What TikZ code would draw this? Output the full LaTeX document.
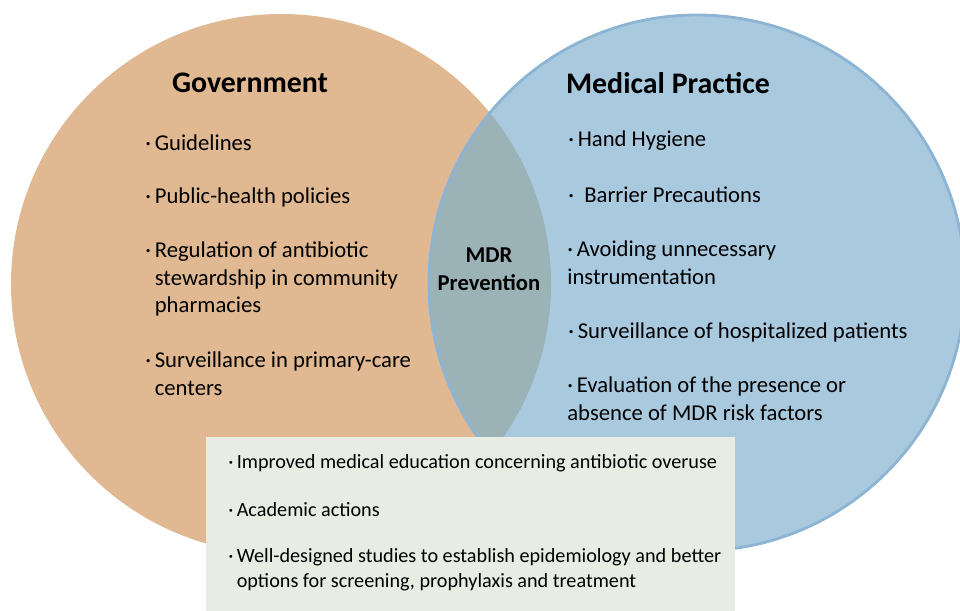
\documentclass[tikz,border=0pt]{standalone}
\usepackage{fontspec}
\setmainfont{Carlito}
\usetikzlibrary{positioning}
\definecolor{govfill}{RGB}{224,184,145}
\definecolor{medfill}{RGB}{169,201,223}
\definecolor{mdrfill}{RGB}{155,179,182}
\definecolor{medline}{RGB}{141,180,211}
\definecolor{acadfill}{RGB}{232,237,228}
\newcommand{\dotind}{\hphantom{·\,}}
\begin{document}
\begin{tikzpicture}[x=0.02cm,y=-0.02cm,
	title/.style={inner sep=0pt,font=\fontsize{17}{20}\selectfont\bfseries},
	item/.style={anchor=west,align=left,inner sep=0pt,font=\fontsize{12.9}{15.9}\selectfont},
	acaditem/.style={anchor=west,align=left,inner sep=0pt,font=\fontsize{11.5}{14.2}\selectfont}]
	\clip (0,0) rectangle (960,611);
	\fill[white] (0,0) rectangle (960,611);
	% the two circles and their overlap
	\fill[govfill] (281,284) circle (270);
	\fill[medfill] (697,283) circle (269);
	\begin{scope}
		\clip (281,284) circle (270);
		\fill[mdrfill] (697,283) circle (269);
	\end{scope}
	\draw[medline,line width=1.6pt] (697,283) circle (268);
	% headings
	\node[title] (gov) at (250,83) {Government};
	\node[title] (med) at (668,83) {Medical Practice};
	\node[inner sep=0pt,align=center,font=\fontsize{12.9}{15.9}\selectfont\bfseries] (mdr) at (489,269) {MDR\\Prevention};
	% government items
	\node[item] (gov1) at (145,143) {·\,Guidelines};
	\node[item] (gov2) at (145,197) {·\,Public-health policies};
	\node[item] (gov3) at (145,279) {·\,Regulation of antibiotic\\\dotind stewardship in community\\\dotind pharmacies};
	\node[item] (gov4) at (145,374) {·\,Surveillance in primary-care\\\dotind centers};
	% medical practice items
	\node[item] (med1) at (568,141) {·\,Hand Hygiene};
	\node[item] (med2) at (568,195) {·\ \ Barrier Precautions};
	\node[item] (med3) at (567,263) {·\,Avoiding unnecessary\\instrumentation};
	\node[item] (med4) at (568,332) {·\,Surveillance of hospitalized patients};
	\node[item] (med5) at (567,399) {·\,Evaluation of the presence or\\absence of MDR risk factors};
	% academic box
	\fill[acadfill] (206,437) rectangle (735,615);
	\node[acaditem] (acad1) at (228,463) {·\,Improved medical education concerning antibiotic overuse};
	\node[acaditem] (acad2) at (228,510) {·\,Academic actions};
	\node[acaditem] (acad3) at (228,570) {·\,Well-designed studies to establish epidemiology and better\\\dotind options for screening, prophylaxis and treatment};
\end{tikzpicture}
\end{document}
